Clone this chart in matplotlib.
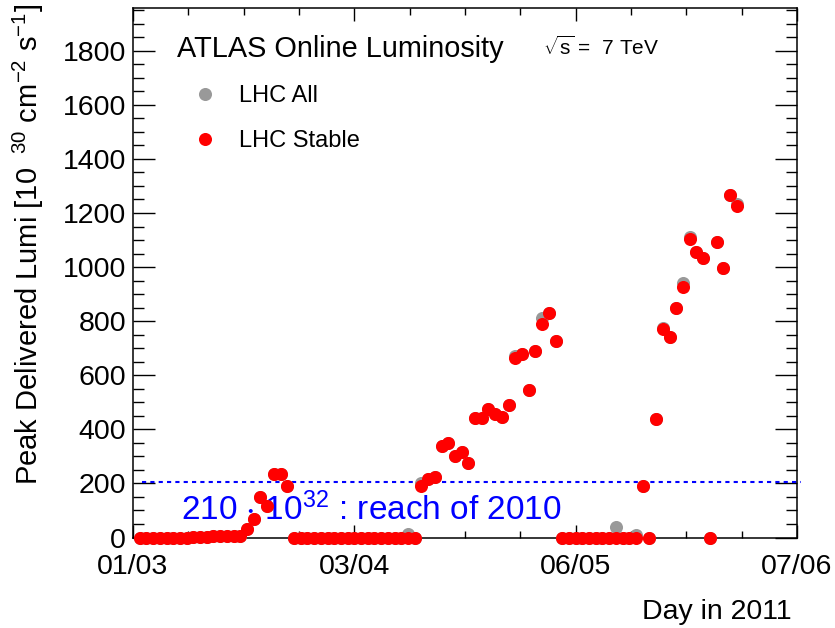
import numpy as np
import matplotlib.pyplot as plt
from matplotlib.ticker import MultipleLocator, FixedLocator

plt.rcParams['font.family'] = ['Liberation Sans', 'DejaVu Sans']
plt.rcParams['mathtext.fontset'] = 'custom'
plt.rcParams['mathtext.rm'] = 'Liberation Sans'
plt.rcParams['mathtext.it'] = 'Liberation Sans:italic'
plt.rcParams['mathtext.default'] = 'regular'

# days counted from 01/03/2011, one point per day
days = np.arange(1, 91)

# peak delivered luminosity [10^30 cm^-2 s^-1], stable beams
lhc_stable = [0, 0, 0, 0, 0, 0, 0, 0, 2, 3, 2, 4, 5, 6, 5, 4,
              30, 67, 150, 115, 236, 236, 190,
              0, 0, 0, 0, 0, 0, 0, 0, 0, 0, 0, 0, 0, 0, 0, 0, 0, 0, 0,
              190, 215, 225, 340, 350, 300, 315, 277, 443, 443, 477,
              458, 447, 490, 665, 680, 547, 688, 791, 832, 728,
              0, 0, 0, 0, 0, 0, 0, 0, 0, 0, 0, 0,
              190, 0, 437, 770, 743, 847, 928, 1102, 1057, 1035, 0,
              1091, 995, 1268, 1224]

# all beams (differs only where grey shows behind red)
lhc_all = [0, 0, 0, 0, 0, 0, 0, 0, 2, 3, 2, 4, 5, 6, 5, 4,
           30, 67, 150, 115, 236, 236, 190,
           0, 0, 0, 0, 0, 0, 0, 0, 0, 0, 0, 0, 0, 0, 0, 0, 0, 12, 0,
           200, 215, 225, 340, 350, 300, 315, 277, 443, 443, 477,
           458, 447, 490, 672, 680, 547, 688, 813, 832, 728,
           0, 0, 0, 0, 0, 0, 0, 0, 37, 0, 0, 10,
           190, 0, 437, 775, 743, 847, 942, 1110, 1057, 1035, 0,
           1091, 995, 1268, 1235]

date_ticks = [0, 33, 66, 99]
date_labels = ['01/03', '03/04', '06/05', '07/06']
reach_2010 = 205

fig = plt.figure(figsize=(8.35, 6.28), dpi=100)
ax = fig.add_axes([133 / 835, 1 - 537.5 / 628, 664 / 835, 529.5 / 628])

ax.plot(days, lhc_all, 'o', color='#999999', ms=9.4, mec='none', ls='none',
        label='LHC All', clip_on=False, zorder=3)
ax.plot(days, lhc_stable, 'o', color='red', ms=9.4, mec='none', ls='none',
        label='LHC Stable', clip_on=False, zorder=4)

ax.axhline(reach_2010, xmin=0.013, xmax=1.006, color='blue', lw=1.5,
           ls=(0, (2, 2)), clip_on=False, zorder=2)

ax.set_xlim(0, 99)
ax.set_ylim(0, 1958)

ax.xaxis.set_major_locator(FixedLocator(date_ticks))
ax.set_xticklabels(date_labels)
ax.xaxis.set_minor_locator(MultipleLocator(8.25))
ax.yaxis.set_minor_locator(MultipleLocator(50))
ax.set_yticks(range(0, 1801, 200))

for s in ax.spines.values():
    s.set_linewidth(1.1)

ax.tick_params(axis='both', which='both', direction='in', top=True, right=True,
               width=1.0, labelsize=20.5)
ax.tick_params(axis='y', which='major', length=15.8, pad=5)
ax.tick_params(axis='y', which='minor', length=7.9)
ax.tick_params(axis='x', which='major', length=9.4, pad=12)
ax.tick_params(axis='x', which='minor', length=5)

ax.text(0.0663, 0.9075, 'ATLAS Online Luminosity', transform=ax.transAxes,
        fontsize=20.8, va='baseline')
ax.text(0.6175, 0.911, r'$\sqrt{s}$ =  7 TeV', transform=ax.transAxes,
        fontsize=15, va='baseline')
ax.text(0.072, 0.033, r'210 $\cdot$ 10$^{32}$ : reach of 2010',
        transform=ax.transAxes, fontsize=24, color='blue', va='baseline')

ax.legend(loc='upper left', bbox_to_anchor=(0.0907, 0.855), frameon=False,
          fontsize=17, numpoints=1, handlelength=1.0, handletextpad=0.94,
          labelspacing=0.98, borderpad=0, borderaxespad=0)

fig.text(28 / 835, 1 - 4 / 628,
         r'Peak Delivered Lumi [10 $^{\ 30}$ cm$^{-2}$ s$^{-1}$]',
         rotation=90, ha='center', va='top', fontsize=21)
fig.text(792 / 835, 1 - 619 / 628, 'Day in 2011', ha='right', va='baseline',
         fontsize=20.5)

fig.savefig('out.png', dpi=100)
